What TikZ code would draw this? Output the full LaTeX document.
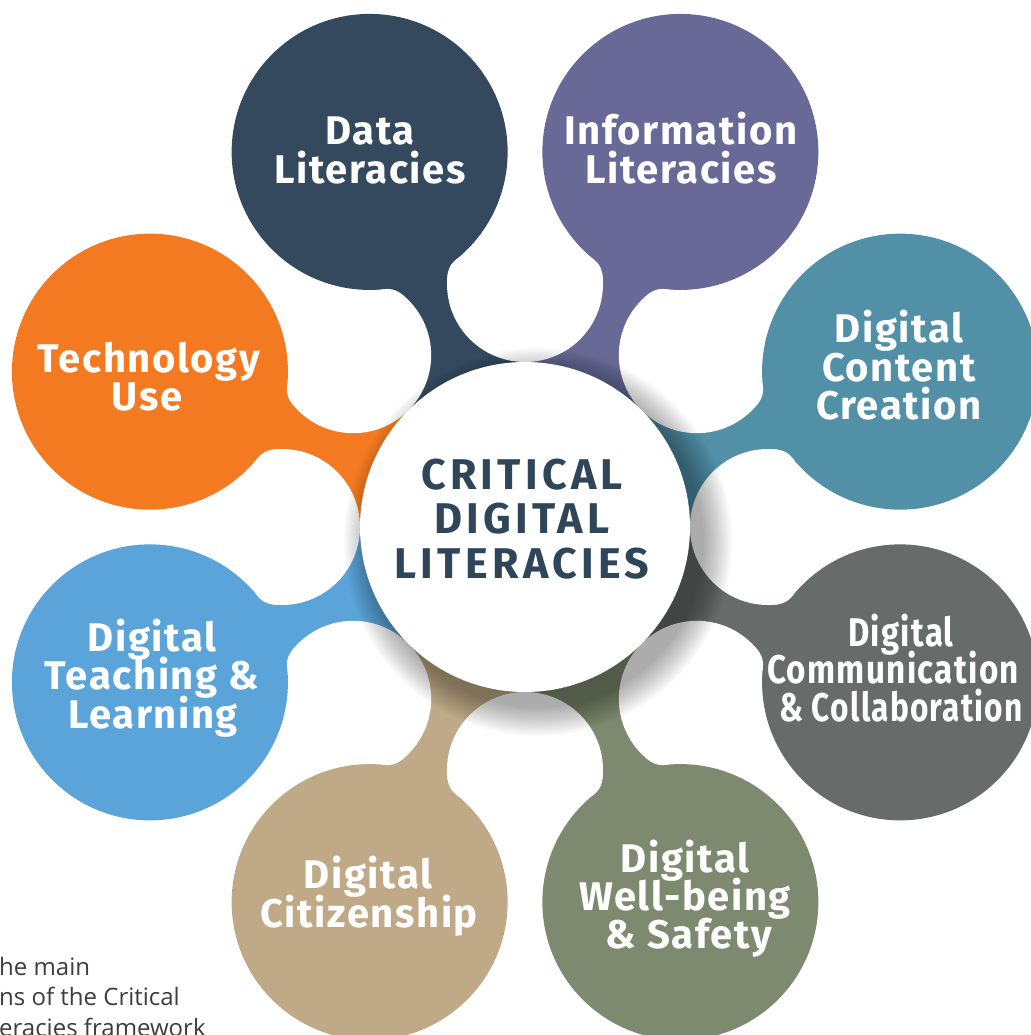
\documentclass[tikz,border=0pt]{standalone}
\usepackage{fontspec}
\setsansfont{Fira Sans}
\newfontfamily\capfont{Open Sans}
\usetikzlibrary{calc}
\definecolor{cData}{HTML}{34495E}
\definecolor{cInfo}{HTML}{686996}
\definecolor{cCont}{HTML}{5190A6}
\definecolor{cComm}{HTML}{676B69}
\definecolor{cWell}{HTML}{7E8A6F}
\definecolor{cCiti}{HTML}{BFA986}
\definecolor{cTeach}{HTML}{5BA4DA}
\definecolor{cTech}{HTML}{F47A22}
\definecolor{ctext}{HTML}{2F4559}
\definecolor{captext}{HTML}{3D3D3D}
\begin{document}
\begin{tikzpicture}[x=1pt,y=-1pt,
  lbl/.style={text=white, anchor=base, inner sep=0pt,
    font=\sffamily\bfseries\fontsize{40}{40}\selectfont\addfontfeature{LetterSpace=4}},
  ctr/.style={text=ctext, anchor=base, inner sep=0pt,
    font=\sffamily\bfseries\fontsize{43}{43}\selectfont\addfontfeature{LetterSpace=10}},
  captiontext/.style={text=captext, anchor=base west, inner sep=0pt,
    font=\capfont\fontsize{24}{24}\selectfont},
  petal/.style={circle, minimum size=276pt, inner sep=0pt, draw=none},
  gapdisc/.style={circle, fill=white, minimum size=156pt, inner sep=0pt, draw=none}]
\useasboundingbox (0,0) rectangle (1030,1035);
\coordinate (C) at (525,527);
% necks
\foreach \ang/\col in {247.5/cData, 292.5/cInfo, -22.5/cCont, 22.5/cComm, 67.5/cWell, 112.5/cCiti, 157.5/cTeach, 202.5/cTech}{
  \begin{scope}
    \clip (C) circle (300pt);
    \fill[\col] (C) -- ($(C)+(\ang-22.5:600)$) -- ($(C)+(\ang+22.5:600)$) -- cycle;
  \end{scope}
}
% white gaps between necks
\foreach \g/\nm in {0/g0,45/g1,90/g2,135/g3,180/g4,225/g5,270/g6,315/g7}{
  \node[gapdisc] (\nm) at ($(C)+(\g:243)$) {};
}
% outer circles
\foreach \ang/\col/\nm in {247.5/cData/data, 292.5/cInfo/info, -22.5/cCont/cont, 22.5/cComm/comm, 67.5/cWell/well, 112.5/cCiti/citi, 157.5/cTeach/teach, 202.5/cTech/tech}{
  \node[petal, fill=\col] (\nm) at ($(C)+(\ang:406)$) {};
}
% smooth fillets where each neck meets its circle
\foreach \ang/\col in {247.5/cData, 292.5/cInfo, -22.5/cCont, 22.5/cComm, 67.5/cWell, 112.5/cCiti, 157.5/cTeach, 202.5/cTech}{
  \foreach \s in {1,-1}{
    \pgfmathsetmacro{\g}{\ang-22.5*\s}
    \pgfmathsetmacro{\p}{\g+90*\s}
    \fill[\col] ($(C)+(\g:250.05)+(\p:55.55)$) -- ($(C)+(\g:252.82)+(\p:77.38)$)
       -- ($(C)+(\g:268.9)+(\p:85.5)$) -- ($(C)+(\g:267.24)+(\p:69.27)$) -- cycle;
    \fill[white] ($(C)+(\g:250.05)+(\p:55.55)$) circle (22pt);
  }
}
% shadow of the centre circle
\foreach \r in {166,168,...,194}{
  \fill[black, opacity=0.025] ($(C)+(13,15)$) circle (\r pt);
}
\node[circle, fill=white, minimum size=330pt, inner sep=0pt] (center) at (C) {};
% centre text
\node[ctr] (c1) at (522,489) {CRITICAL};
\node[ctr] (c2) at (522,533) {DIGITAL};
\node[ctr] (c3) at (522,578) {LITERACIES};
% labels
\node[lbl] (data1) at (370,145) {Data};
\node[lbl] (data2) at (370,183) {Literacies};
\node[lbl] (info1) at (681,145) {Information};
\node[lbl] (info2) at (681,183) {Literacies};
\node[lbl] (cont1) at (899,342) {Digital};
\node[lbl] (cont2) at (899,381) {Content};
\node[lbl] (cont3) at (899,419) {Creation};
\node[lbl] (comm1) at (901,646) {\scalebox{0.82}[1]{Digital}};
\node[lbl] (comm2) at (893,683) {\scalebox{0.83}[1]{Communication}};
\node[lbl] (comm3) at (901,721) {\scalebox{0.79}[1]{\& Collaboration}};
\node[lbl] (well1) at (685,872) {Digital};
\node[lbl] (well2) at (685,910) {Well-being};
\node[lbl] (well3) at (689,948) {\& Safety};
\node[lbl] (citi1) at (368,888) {Digital};
\node[lbl] (citi2) at (369,927) {Citizenship};
\node[lbl] (teach1) at (152,651) {Digital};
\node[lbl] (teach2) at (152,689) {Teaching \&};
\node[lbl] (teach3) at (153,728) {Learning};
\node[lbl] (tech1) at (149,372) {Technology};
\node[lbl] (tech2) at (147,410) {Use};
% caption (cut off at the left edge)
\node[captiontext] (cap1) at (-1,975) {he main};
\node[captiontext] (cap2) at (-1,1005) {ns of the Critical};
\node[captiontext] (cap3) at (-1,1036) {eracies framework};
\end{tikzpicture}
\end{document}
